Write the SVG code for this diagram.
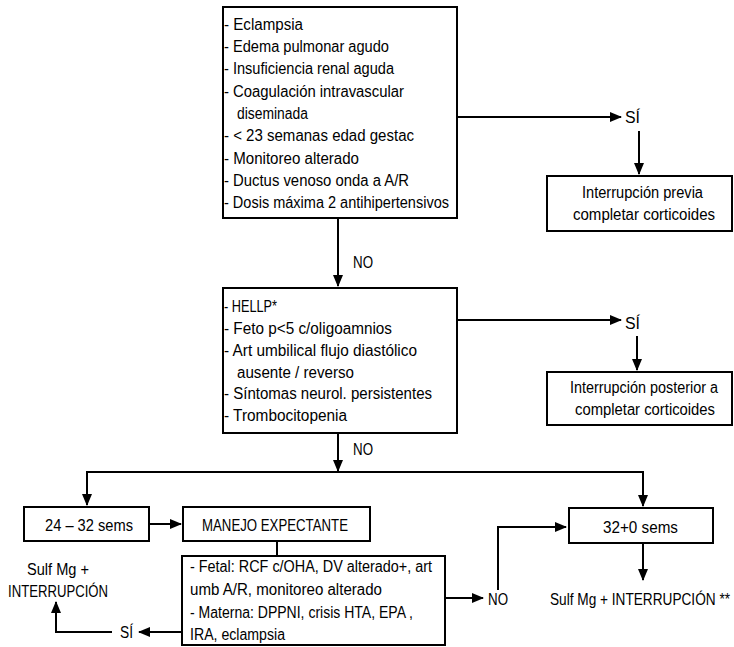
<svg xmlns="http://www.w3.org/2000/svg" width="734" height="647" viewBox="0 0 734 647">
<defs>
<style>
.box{fill:#fff;stroke:#000;stroke-width:2}
.ln{fill:none;stroke:#000;stroke-width:2}
text{font-family:"Liberation Sans",Arial,sans-serif;font-size:16px;fill:#000}
</style>
<marker id="ah" markerWidth="12" markerHeight="10" refX="11" refY="5" orient="auto" markerUnits="userSpaceOnUse"><path d="M0,0 L12,5 L0,10 z" fill="#000"/></marker>
</defs>
<rect width="734" height="647" fill="#fff"/>
<g id="connectors">
<path class="ln" d="M457,117 H621" marker-end="url(#ah)"/>
<path class="ln" d="M639,131 V174" marker-end="url(#ah)"/>
<path class="ln" d="M338,218 V286" marker-end="url(#ah)"/>
<path class="ln" d="M457,320 H621" marker-end="url(#ah)"/>
<path class="ln" d="M637,336 V370" marker-end="url(#ah)"/>
<path class="ln" d="M338,433 V471" marker-end="url(#ah)"/>
<path class="ln" d="M87,472 H643"/>
<path class="ln" d="M87,471 V505" marker-end="url(#ah)"/>
<path class="ln" d="M643,471 V506" marker-end="url(#ah)"/>
<path class="ln" d="M149,524 H181" marker-end="url(#ah)"/>
<path class="ln" d="M277,541 V556"/>
<path class="ln" d="M182,632 H139" marker-end="url(#ah)"/>
<path class="ln" d="M112,632 H56 V602" marker-end="url(#ah)"/>
<path class="ln" d="M445,598 H483" marker-end="url(#ah)"/>
<path class="ln" d="M498,590 V527 H566" marker-end="url(#ah)"/>
<path class="ln" d="M643,543 V580" marker-end="url(#ah)"/>
<text x="625" y="123" textLength="15" lengthAdjust="spacingAndGlyphs">SÍ</text>
<text x="353" y="268" textLength="20" lengthAdjust="spacingAndGlyphs">NO</text>
<text x="625" y="329" textLength="15" lengthAdjust="spacingAndGlyphs">SÍ</text>
<text x="353" y="455" textLength="20" lengthAdjust="spacingAndGlyphs">NO</text>
<text x="120" y="638" textLength="13" lengthAdjust="spacingAndGlyphs">SÍ</text>
<text x="488" y="605" textLength="20" lengthAdjust="spacingAndGlyphs">NO</text>
</g>
<g id="n1">
<rect class="box" x="223" y="7" width="234" height="211"/>
<text x="224" y="29.5" textLength="79" lengthAdjust="spacingAndGlyphs">- Eclampsia</text>
<text x="224" y="51.8" textLength="165" lengthAdjust="spacingAndGlyphs">- Edema pulmonar agudo</text>
<text x="224" y="74" textLength="170" lengthAdjust="spacingAndGlyphs">- Insuficiencia renal aguda</text>
<text x="224" y="96.5" textLength="180" lengthAdjust="spacingAndGlyphs">- Coagulación intravascular</text>
<text x="237" y="118.8" textLength="71" lengthAdjust="spacingAndGlyphs">diseminada</text>
<text x="224" y="141" textLength="190" lengthAdjust="spacingAndGlyphs">- &lt; 23 semanas edad gestac</text>
<text x="224" y="163.5" textLength="135" lengthAdjust="spacingAndGlyphs">- Monitoreo alterado</text>
<text x="224" y="185.8" textLength="185" lengthAdjust="spacingAndGlyphs">- Ductus venoso onda a A/R</text>
<text x="224" y="208" textLength="225" lengthAdjust="spacingAndGlyphs">- Dosis máxima 2 antihipertensivos</text>
</g>
<g id="n2">
<rect class="box" x="547" y="176" width="185" height="55"/>
<text x="582" y="198" textLength="121" lengthAdjust="spacingAndGlyphs">Interrupción previa</text>
<text x="573" y="220" textLength="142" lengthAdjust="spacingAndGlyphs">completar corticoides</text>
</g>
<g id="n3">
<rect class="box" x="223" y="288" width="234" height="145"/>
<text x="224" y="312" textLength="53" lengthAdjust="spacingAndGlyphs">- HELLP*</text>
<text x="224" y="334" textLength="168" lengthAdjust="spacingAndGlyphs">- Feto p&lt;5 c/oligoamnios</text>
<text x="224" y="356" textLength="193" lengthAdjust="spacingAndGlyphs">- Art umbilical flujo diastólico</text>
<text x="237" y="377.5" textLength="117" lengthAdjust="spacingAndGlyphs">ausente / reverso</text>
<text x="224" y="399" textLength="208" lengthAdjust="spacingAndGlyphs">- Síntomas neurol. persistentes</text>
<text x="224" y="421" textLength="123" lengthAdjust="spacingAndGlyphs">- Trombocitopenia</text>
</g>
<g id="n4">
<rect class="box" x="547" y="372" width="185" height="53"/>
<text x="570" y="393" textLength="148" lengthAdjust="spacingAndGlyphs">Interrupción posterior a</text>
<text x="575" y="415" textLength="140" lengthAdjust="spacingAndGlyphs">completar corticoides</text>
</g>
<g id="n5">
<rect class="box" x="24" y="507" width="125" height="34"/>
<text x="45" y="531" textLength="88" lengthAdjust="spacingAndGlyphs">24 – 32 sems</text>
</g>
<g id="n6">
<rect class="box" x="183" y="507" width="187" height="34"/>
<text x="202" y="531" textLength="146" lengthAdjust="spacingAndGlyphs">MANEJO EXPECTANTE</text>
</g>
<g id="n7">
<rect class="box" x="182" y="556" width="263" height="89"/>
<text x="190" y="572" textLength="242" lengthAdjust="spacingAndGlyphs">- Fetal: RCF c/OHA, DV alterado+, art</text>
<text x="190" y="595" textLength="192" lengthAdjust="spacingAndGlyphs">umb A/R, monitoreo alterado</text>
<text x="190" y="618" textLength="223" lengthAdjust="spacingAndGlyphs">- Materna: DPPNI, crisis HTA, EPA ,</text>
<text x="190" y="640" textLength="95" lengthAdjust="spacingAndGlyphs">IRA, eclampsia</text>
</g>
<g id="n8">
<text x="27" y="575" textLength="62" lengthAdjust="spacingAndGlyphs">Sulf Mg +</text>
<text x="8" y="597" textLength="100" lengthAdjust="spacingAndGlyphs">INTERRUPCIÓN</text>
</g>
<g id="n9">
<rect class="box" x="569" y="508" width="144" height="35"/>
<text x="603" y="533" textLength="75" lengthAdjust="spacingAndGlyphs">32+0 sems</text>
</g>
<g id="n10">
<text x="550" y="605" font-size="14.5" textLength="180" lengthAdjust="spacingAndGlyphs">Sulf Mg + INTERRUPCIÓN **</text>
</g>
</svg>
